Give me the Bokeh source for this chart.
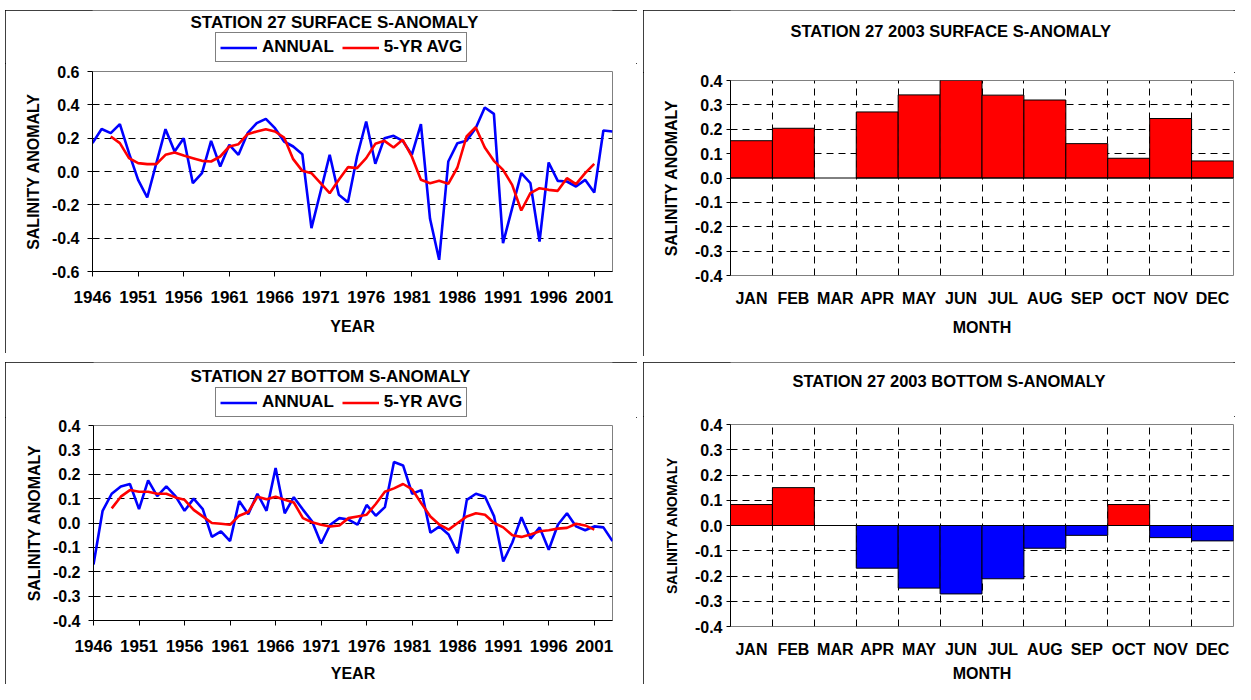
from bokeh.plotting import figure
from bokeh.models import (FixedTicker, PrintfTickFormatter, Legend, LegendItem, Span,
                          ColumnDataSource, Label)
from bokeh.layouts import row, column
from bokeh.embed import file_html
from bokeh.resources import INLINE

FONT = "Liberation Sans"

# ---------------- data ----------------
years = list(range(1946, 2004))
avg_years = list(range(1948, 2002))

surface_annual = [0.17, 0.255, 0.23, 0.284, 0.11, -0.05, -0.156, 0.05, 0.254, 0.12,
                  0.20, -0.07, -0.01, 0.184, 0.03, 0.16, 0.10, 0.23, 0.29, 0.316,
                  0.26, 0.18, 0.15, 0.104, -0.34, -0.12, 0.10, -0.14, -0.184, 0.09,
                  0.30, 0.046, 0.20, 0.214, 0.184, 0.10, 0.284, -0.284, -0.53, 0.06,
                  0.17, 0.184, 0.26, 0.384, 0.346, -0.43, -0.22, -0.01, -0.07, -0.42,
                  0.054, -0.056, -0.06, -0.09, -0.05, -0.126, 0.246, 0.24]
surface_avg = [0.21, 0.17, 0.08, 0.05, 0.044, 0.044, 0.10, 0.114, 0.096, 0.08,
               0.064, 0.06, 0.09, 0.15, 0.164, 0.224, 0.24, 0.254, 0.24, 0.204,
               0.074, 0.004, -0.01, -0.07, -0.13, -0.05, 0.026, 0.02, 0.08, 0.166,
               0.184, 0.144, 0.19, 0.09, -0.05, -0.07, -0.056, -0.074, 0.024, 0.21,
               0.266, 0.144, 0.064, 0.01, -0.08, -0.234, -0.13, -0.10, -0.11, -0.116,
               -0.04, -0.076, -0.01, 0.046]

bottom_annual = [-0.17, 0.05, 0.12, 0.15, 0.16, 0.057, 0.175, 0.11, 0.15, 0.11,
                 0.05, 0.10, 0.057, -0.057, -0.034, -0.074, 0.09, 0.036, 0.12, 0.05,
                 0.226, 0.04, 0.106, 0.055, 0.007, -0.084, -0.007, 0.02, 0.014, -0.007,
                 0.074, 0.03, 0.065, 0.25, 0.236, 0.12, 0.135, -0.04, -0.014, -0.047,
                 -0.124, 0.095, 0.12, 0.108, 0.027, -0.158, -0.08, 0.024, -0.064, -0.018,
                 -0.11, -0.007, 0.04, -0.014, -0.03, -0.014, -0.018, -0.074]
bottom_avg = [0.06, 0.108, 0.135, 0.128, 0.128, 0.12, 0.12, 0.105, 0.095, 0.054,
              0.027, 0.0, -0.003, -0.007, 0.03, 0.045, 0.108, 0.097, 0.108, 0.095,
              0.084, 0.02, 0.003, -0.007, -0.014, -0.01, 0.02, 0.027, 0.034, 0.078,
              0.128, 0.142, 0.16, 0.138, 0.081, 0.027, -0.007, -0.027, 0.0, 0.027,
              0.04, 0.034, 0.0, -0.018, -0.05, -0.057, -0.047, -0.034, -0.03, -0.023,
              -0.02, -0.003, -0.01, -0.027]

months = ["JAN", "FEB", "MAR", "APR", "MAY", "JUN", "JUL", "AUG", "SEP", "OCT", "NOV", "DEC"]
surface_2003 = [0.153, 0.204, None, 0.271, 0.341, 0.41, 0.34, 0.32, 0.141, 0.081, 0.244, 0.07]
bottom_2003 = [0.083, 0.15, None, -0.169, -0.248, -0.271, -0.211, -0.09, -0.039, 0.083, -0.048, -0.061]

year_tick_step = 5
BLUE = "#0000FF"
RED = "#FF0000"
PANEL_STYLE = {"outline": "1px solid black", "outline-offset": "-1px"}


def make_ticks(lo, hi, step):
    n = int(round((hi - lo) / step))
    return [round(lo + i * step, 2) + 0.0 for i in range(n + 1)]


def header(width, height, left, right, title, title_xy, title_size,
           legend_series=None, legend_x=0, legend_y=0):
    """Band above the chart holding the title (and legend).
    Its frame is aligned with the chart frame below; its data units equal
    pixels measured from the panel's left / bottom edge."""
    h = figure(width=width, height=height, x_range=(left, width - right),
               y_range=(0, height), output_backend="svg", toolbar_location=None,
               title=None, x_axis_location=None, y_axis_location=None,
               min_border_left=left, min_border_right=right,
               min_border_top=0, min_border_bottom=0)
    h.grid.visible = False
    h.outline_line_color = None
    h.border_fill_color = "white"
    h.add_layout(Label(x=title_xy[0], y=height - title_xy[1], text=title,
                       text_font=FONT, text_font_style="bold", text_font_size=title_size,
                       text_color="black", text_align="left", text_baseline="middle"))
    if legend_series:
        items = []
        for label, xs, ys, color in legend_series:
            # same series, outside this band's visible range: only its legend swatch shows
            r = h.line(xs, ys, line_color=color, line_width=2.6)
            items.append(LegendItem(label=label, renderers=[r]))
        lg = Legend(items=items, orientation="horizontal",
                    location=(legend_x - left, legend_y),
                    border_line_color="black", border_line_width=1,
                    background_fill_color="white", background_fill_alpha=1,
                    label_text_font=FONT, label_text_font_style="bold",
                    label_text_font_size="17px", label_text_color="black",
                    glyph_width=37, glyph_height=17, label_height=17,
                    label_standoff=5, spacing=8, padding=4, margin=0)
        h.add_layout(lg)
    return h


def style_common(p, ylabel, xlabel, xtick_size, ytick_size, ylabel_size, xlabel_size):
    p.outline_line_color = "#808080"
    p.outline_line_width = 1
    p.background_fill_color = "white"
    p.border_fill_color = "white"
    for ax in (p.xaxis[0], p.yaxis[0]):
        ax.major_label_text_font = FONT
        ax.major_label_text_font_style = "bold"
        ax.major_label_text_color = "black"
        ax.axis_label_text_font = FONT
        ax.axis_label_text_font_style = "bold"
        ax.axis_label_text_color = "black"
        ax.minor_tick_line_color = None
        ax.major_tick_line_color = "black"
        ax.axis_line_color = "black"
    p.xaxis.major_label_text_font_size = xtick_size
    p.yaxis.major_label_text_font_size = ytick_size
    p.yaxis.axis_label_text_font_size = ylabel_size
    p.xaxis.axis_label_text_font_size = xlabel_size
    p.yaxis[0].axis_label = ylabel
    p.xaxis[0].axis_label = xlabel


def line_chart(annual, avg, ylo, yhi, ystep, width, height, borders, standoffs):
    left, right, top, bottom = borders
    p = figure(width=width, height=height, x_range=(years[0], years[-1]),
               y_range=(ylo, yhi), output_backend="svg", toolbar_location=None,
               title=None, min_border_left=left, min_border_right=right,
               min_border_top=top, min_border_bottom=bottom)
    style_common(p, "SALINITY ANOMALY", "YEAR", "17px", "16px", "16px", "16px")
    yt = make_ticks(ylo, yhi, ystep)
    p.yaxis.ticker = FixedTicker(ticks=yt)
    p.yaxis.formatter = PrintfTickFormatter(format="%.1f")
    p.yaxis.major_tick_out = 5
    p.yaxis.major_tick_in = 0
    p.yaxis.major_label_standoff = 8
    p.yaxis.axis_label_standoff = 7
    p.xaxis.ticker = FixedTicker(ticks=years[::year_tick_step])
    p.xaxis.major_tick_out = 5
    p.xaxis.major_tick_in = 0
    p.xaxis.major_label_standoff = standoffs[0]
    p.xaxis.axis_label_standoff = standoffs[1]
    p.xgrid.visible = False
    p.ygrid.ticker = FixedTicker(ticks=yt[1:-1])
    p.ygrid.grid_line_color = "black"
    p.ygrid.grid_line_dash = "7 5"
    p.ygrid.grid_line_width = 1
    p.line(years, annual, line_color=BLUE, line_width=2.6)
    p.line(avg_years, avg, line_color=RED, line_width=2.6)
    return p


def bar_chart(vals, width, height, borders, ylabel_size, standoffs):
    left, right, top, bottom = borders
    n = len(months)
    centers = [i + 0.5 for i in range(n)]
    xs = [c for c, v in zip(centers, vals) if v is not None]
    tops = [v for v in vals if v is not None]
    colors = [RED if v >= 0 else BLUE for v in tops]
    src = ColumnDataSource(dict(x=xs, top=tops, color=colors))
    p = figure(width=width, height=height, x_range=(0, n), y_range=(-0.4, 0.4),
               output_backend="svg", toolbar_location=None, title=None,
               min_border_left=left, min_border_right=right,
               min_border_top=top, min_border_bottom=bottom)
    style_common(p, "SALINITY ANOMALY", "MONTH", "16px", "16px", ylabel_size, "16px")
    yt = make_ticks(-0.4, 0.4, 0.1)
    p.yaxis.ticker = FixedTicker(ticks=yt)
    p.yaxis.formatter = PrintfTickFormatter(format="%.1f")
    p.yaxis.major_tick_out = 4
    p.yaxis.major_tick_in = 0
    p.yaxis.major_label_standoff = 4
    p.yaxis.axis_label_standoff = 12
    p.xaxis.ticker = FixedTicker(ticks=centers)
    p.xaxis.major_label_overrides = {c: m for c, m in zip(centers, months)}
    p.xaxis.axis_line_color = None
    p.xaxis.major_tick_line_color = None
    p.xaxis.major_label_standoff = standoffs[0]
    p.xaxis.axis_label_standoff = standoffs[1]
    p.xgrid.ticker = FixedTicker(ticks=list(range(1, n)))
    p.xgrid.grid_line_color = "black"
    p.xgrid.grid_line_dash = "7 5"
    p.ygrid.ticker = FixedTicker(ticks=[t for t in yt if 1e-9 < abs(t) < 0.39])
    p.ygrid.grid_line_color = "black"
    p.ygrid.grid_line_dash = "7 5"
    p.vbar(x="x", top="top", bottom=0, width=1, source=src,
           fill_color="color", line_color="black", line_width=1)
    p.add_layout(Span(location=0, dimension="width", line_color="black", line_width=1))
    return p


surface_legend = [("ANNUAL", years, surface_annual, BLUE), ("5-YR AVG", avg_years, surface_avg, RED)]
bottom_legend = [("ANNUAL", years, bottom_annual, BLUE), ("5-YR AVG", avg_years, bottom_avg, RED)]

# top-left
h1 = header(632, 53, 87, 25, "STATION 27 SURFACE S-ANOMALY", (185, 12), "17px",
            surface_legend, 210, 1)
c1 = line_chart(surface_annual, surface_avg, -0.6, 0.6, 0.2, 632, 290, (87, 25, 8, 82), (14, 12))
panel1 = column(h1, c1, styles=PANEL_STYLE, margin=(10, 0, 0, 5))

# top-right
h2 = header(592, 62, 87, 2, "STATION 27 2003 SURFACE S-ANOMALY", (147, 20), "16.5px")
c2 = bar_chart(surface_2003, 592, 284, (87, 2, 8, 81), "16px", (8, 9))
panel2 = column(h2, c2, styles=PANEL_STYLE, margin=(10, 0, 0, 6))

# bottom-left
h3 = header(632, 55, 88, 25, "STATION 27 BOTTOM S-ANOMALY", (185, 14), "17px",
            bottom_legend, 210, 0)
c3 = line_chart(bottom_annual, bottom_avg, -0.4, 0.4, 0.1, 632, 267, (88, 25, 8, 64), (14, 10))
panel3 = column(h3, c3, styles=PANEL_STYLE, margin=(6, 0, 0, 5))

# bottom-right
h4 = header(592, 54, 87, 2, "STATION 27 2003 BOTTOM S-ANOMALY", (149, 18), "16.5px")
c4 = bar_chart(bottom_2003, 592, 268, (87, 2, 8, 58), "14px", (8, 4))
panel4 = column(h4, c4, styles=PANEL_STYLE, margin=(6, 0, 0, 6))

layout = column(row(panel1, panel2), row(panel3, panel4))

open("out.html", "w").write(file_html(layout, INLINE))
